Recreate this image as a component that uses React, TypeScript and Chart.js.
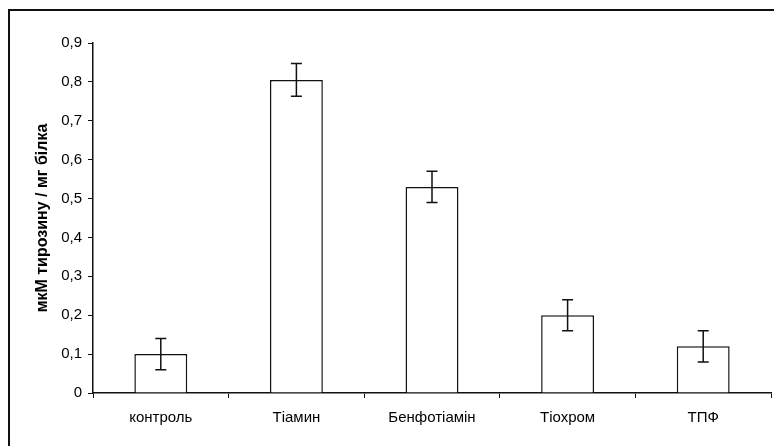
import React, { useEffect, useRef } from "react";
import { Chart, registerables } from "chart.js";

Chart.register(...registerables);

const categories = ["контроль", "Тіамин", "Бенфотіамін", "Тіохром", "ТПФ"];
const values = [0.1, 0.805, 0.53, 0.2, 0.12];
const errors = [0.04, 0.042, 0.04, 0.04, 0.04];
const yTitle = "мкМ тирозину / мг білка";
const yMax = 0.9;
const yStep = 0.1;

const FONT = "Arial, 'Liberation Sans', sans-serif";

const errorBarPlugin = {
  id: "errorBars",
  afterDatasetsDraw(chart: any) {
    const ctx = chart.ctx;
    const meta = chart.getDatasetMeta(0);
    const yScale = chart.scales.y;
    ctx.save();
    ctx.strokeStyle = "#111";
    ctx.lineWidth = 1.5;
    meta.data.forEach((bar: any, i: number) => {
      const x = bar.x;
      const yTop = yScale.getPixelForValue(values[i] + errors[i]);
      const yBot = yScale.getPixelForValue(values[i] - errors[i]);
      const cap = 5.5;
      ctx.beginPath();
      ctx.moveTo(x, yTop);
      ctx.lineTo(x, yBot);
      ctx.moveTo(x - cap, yTop);
      ctx.lineTo(x + cap, yTop);
      ctx.moveTo(x - cap, yBot);
      ctx.lineTo(x + cap, yBot);
      ctx.stroke();
    });
    ctx.restore();
  },
};

export default function App() {
  const ref = useRef<HTMLCanvasElement>(null);
  useEffect(() => {
    if (!ref.current) return;
    const chart = new Chart(ref.current, {
      type: "bar",
      data: {
        labels: categories,
        datasets: [
          {
            data: values,
            backgroundColor: "#ffffff",
            borderColor: "#111",
            borderWidth: 1.5,
            barPercentage: 0.39,
            categoryPercentage: 1,
          },
        ],
      },
      options: {
        animation: false,
        responsive: false,
        maintainAspectRatio: false,
        layout: { padding: { left: 29, top: 43, right: 3, bottom: 0 } },
        plugins: {
          legend: { display: false },
          tooltip: { enabled: false },
        },
        scales: {
          x: {
            afterFit: (s: any) => {
              s.height = 53;
            },
            grid: {
              display: true,
              drawOnChartArea: false,
              drawTicks: true,
              tickLength: 5,
              color: "#111",
              offset: true,
            },
            border: { display: true, color: "#111", width: 1.5 },
            ticks: {
              color: "#000",
              font: { family: FONT, size: 15 },
              padding: 11,
              maxRotation: 0,
            },
          },
          y: {
            min: 0,
            max: yMax,
            afterFit: (s: any) => {
              s.width = 64;
            },
            grid: {
              display: true,
              drawOnChartArea: false,
              drawTicks: true,
              tickLength: 5,
              color: "#111",
            },
            border: { display: true, color: "#111", width: 1.5 },
            ticks: {
              stepSize: yStep,
              color: "#000",
              font: { family: FONT, size: 15 },
              padding: 6,
              callback: (v: any) => {
                const n = Math.round(Number(v) * 10) / 10;
                return n === 0 ? "0" : n.toFixed(1).replace(".", ",");
              },
            },
            title: {
              display: true,
              text: yTitle,
              color: "#000",
              font: { family: FONT, size: 16, weight: "bold" },
              padding: { top: 4, bottom: 4 },
            },
          },
        },
      },
      plugins: [errorBarPlugin],
    });
    return () => chart.destroy();
  }, []);

  return (
    <div
      style={{
        position: "fixed",
        left: 0,
        top: 0,
        width: 774,
        height: 446,
        background: "#fff",
      }}
    >
      <canvas
        ref={ref}
        width={774}
        height={446}
        style={{ position: "absolute", left: 0, top: 0, width: 774, height: 446 }}
      />
      <div
        style={{
          position: "absolute",
          left: 8,
          top: 9,
          width: 774 - 8,
          height: 446 - 9,
          borderLeft: "2px solid #111",
          borderTop: "2px solid #111",
          boxSizing: "border-box",
          pointerEvents: "none",
        }}
      />
    </div>
  );
}
